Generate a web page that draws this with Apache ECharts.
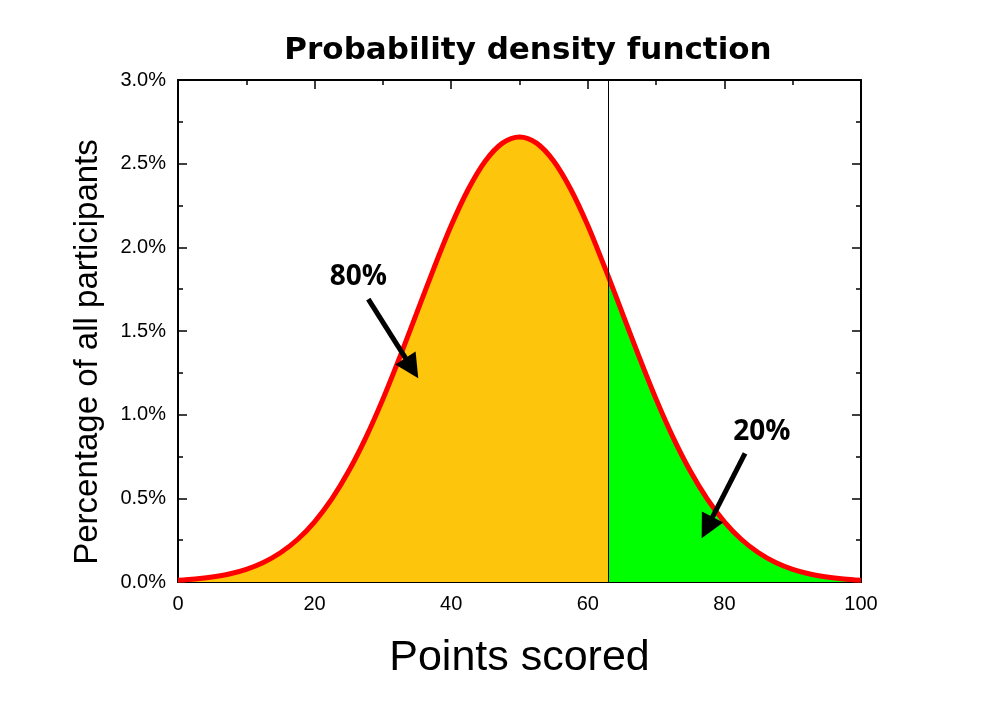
<!DOCTYPE html>
<html>
<head>
<meta charset="utf-8">
<title>Probability density function</title>
<script src="https://cdn.jsdelivr.net/npm/echarts@6/dist/echarts.min.js"></script>
<style>
  html, body { margin: 0; padding: 0; background: #fff; }
  #chart { width: 1000px; height: 701px; }
</style>
</head>
<body>
<div id="chart"></div>
<script>
// points scored (x) and share of participants in % (y)
var points = [0, 2.5, 5, 7.5, 10, 12.5, 15, 17.5, 20, 22.5, 25, 27.5, 30, 32.5, 35, 37.5, 40, 42.5, 45, 47.5,
  50, 52.5, 55, 57.5, 60, 62.5, 63, 65, 67.5, 70, 72.5, 75, 77.5, 80, 82.5, 85, 87.5, 90, 92.5, 95, 97.5, 100];
var share = [0.010, 0.018, 0.030, 0.048, 0.076, 0.117, 0.175, 0.254, 0.360, 0.495, 0.663, 0.863, 1.093, 1.347, 1.613, 1.879, 2.130, 2.347, 2.516, 2.623,
  2.660, 2.623, 2.516, 2.347, 2.130, 1.879, 1.827, 1.613, 1.347, 1.093, 0.863, 0.663, 0.495, 0.360, 0.254, 0.175, 0.117, 0.076, 0.048, 0.030, 0.018, 0.010];
// 80% / 20% split
var cutoff = 63;
var labels = ['80%', '20%'];
var xTicks = [0, 20, 40, 60, 80, 100];
var yTicks = [0, 0.5, 1.0, 1.5, 2.0, 2.5, 3.0];

;(function () {
  var myChart = echarts.init(document.getElementById('chart'));

  // build [x, y] pairs, split at the cutoff
  var all = [], lower = [], upper = [];
  for (var i = 0; i < points.length; i++) {
    var p = [points[i], share[i]];
    all.push(p);
    if (points[i] <= cutoff) lower.push(p);
    if (points[i] >= cutoff) upper.push(p);
  }

  var font = 'Liberation Sans, Arial, sans-serif';

  // shared axis look: black frame, ticks inside
  function frameAxis(extra) {
    var a = {
      axisLine: { show: true, onZero: false, lineStyle: { color: '#000', width: 2 } },
      axisTick: { show: true, inside: true, length: 9, lineStyle: { color: '#000', width: 1.5 } },
      minorTick: { show: true, splitNumber: 2, length: 5, lineStyle: { color: '#000', width: 1.5 } },
      splitLine: { show: false },
      minorSplitLine: { show: false }
    };
    for (var k in extra) a[k] = extra[k];
    return a;
  }

  var option = {
    animation: false,
    title: {
      text: 'Probability density function',
      left: 523,
      top: 30,
      textAlign: 'center',
      textStyle: { fontFamily: 'DejaVu Sans', fontWeight: 'bold', fontSize: 31, color: '#000' }
    },
    grid: { left: 178, right: 139, top: 80, bottom: 119, containLabel: false },
    xAxis: [
      frameAxis({
        type: 'value', min: xTicks[0], max: xTicks[xTicks.length - 1], interval: xTicks[1] - xTicks[0],
        position: 'bottom',
        name: 'Points scored', nameLocation: 'middle', nameGap: 55,
        nameTextStyle: { fontFamily: font, fontSize: 43, color: '#000' },
        axisLabel: { margin: 12, fontFamily: font, fontSize: 20, color: '#000' }
      }),
      frameAxis({
        type: 'value', min: xTicks[0], max: xTicks[xTicks.length - 1], interval: xTicks[1] - xTicks[0],
        position: 'top', axisLabel: { show: false }
      })
    ],
    yAxis: [
      frameAxis({
        type: 'value', min: yTicks[0], max: yTicks[yTicks.length - 1], interval: yTicks[1] - yTicks[0],
        position: 'left',
        axisLabel: {
          margin: 12, fontFamily: font, fontSize: 20, color: '#000',
          formatter: function (v) { return v.toFixed(1) + '%'; }
        }
      }),
      frameAxis({
        type: 'value', min: yTicks[0], max: yTicks[yTicks.length - 1], interval: yTicks[1] - yTicks[0],
        position: 'right', axisLabel: { show: false }
      })
    ],
    // y axis title sits a bit lower than the grid middle
    graphic: [{
      type: 'text',
      x: 88, y: 352,
      rotation: Math.PI / 2,
      style: {
        text: 'Percentage of all participants',
        font: '33px ' + font,
        fill: '#000',
        align: 'center',
        verticalAlign: 'middle'
      }
    }],
    series: [
      {
        // left 80% area
        type: 'line', data: lower, smooth: 0.3, showSymbol: false, silent: true,
        lineStyle: { width: 0 },
        areaStyle: { color: '#FDC50C', opacity: 1 },
        z: 1
      },
      {
        // right 20% area + divider
        type: 'line', data: upper, smooth: 0.3, showSymbol: false, silent: true,
        lineStyle: { width: 0 },
        areaStyle: { color: '#00FF00', opacity: 1 },
        markLine: {
          silent: true, symbol: 'none', label: { show: false },
          lineStyle: { color: '#000', width: 1, type: 'solid' },
          data: [{ xAxis: cutoff }]
        },
        z: 2
      },
      {
        // density curve
        type: 'line', data: all, smooth: 0.3, showSymbol: false, silent: true,
        lineStyle: { color: '#FF0000', width: 5 },
        z: 3,
        markPoint: {
          symbol: 'circle', symbolSize: 0, silent: true,
          label: {
            show: true, position: 'inside', formatter: '{b}',
            fontFamily: 'Open Sans', fontWeight: 'bold', fontSize: 28, color: '#000'
          },
          data: [
            { name: labels[0], coord: [26.4, 1.82] },
            { name: labels[1], coord: [85.5, 0.895] }
          ]
        },
        markLine: {
          silent: true,
          symbol: ['none', 'triangle'],
          symbolSize: 24,
          label: { show: false },
          lineStyle: { color: '#000', width: 5, type: 'solid' },
          itemStyle: { color: '#000' },
          data: [
            [{ coord: [27.86, 1.690] }, { coord: [34.24, 1.278] }],
            [{ coord: [83.02, 0.769] }, { coord: [77.47, 0.325] }]
          ]
        }
      }
    ]
  };

  myChart.setOption(option);
  window.addEventListener('resize', function () {
    myChart.resize();
  });
})();
</script>
</body>
</html>
